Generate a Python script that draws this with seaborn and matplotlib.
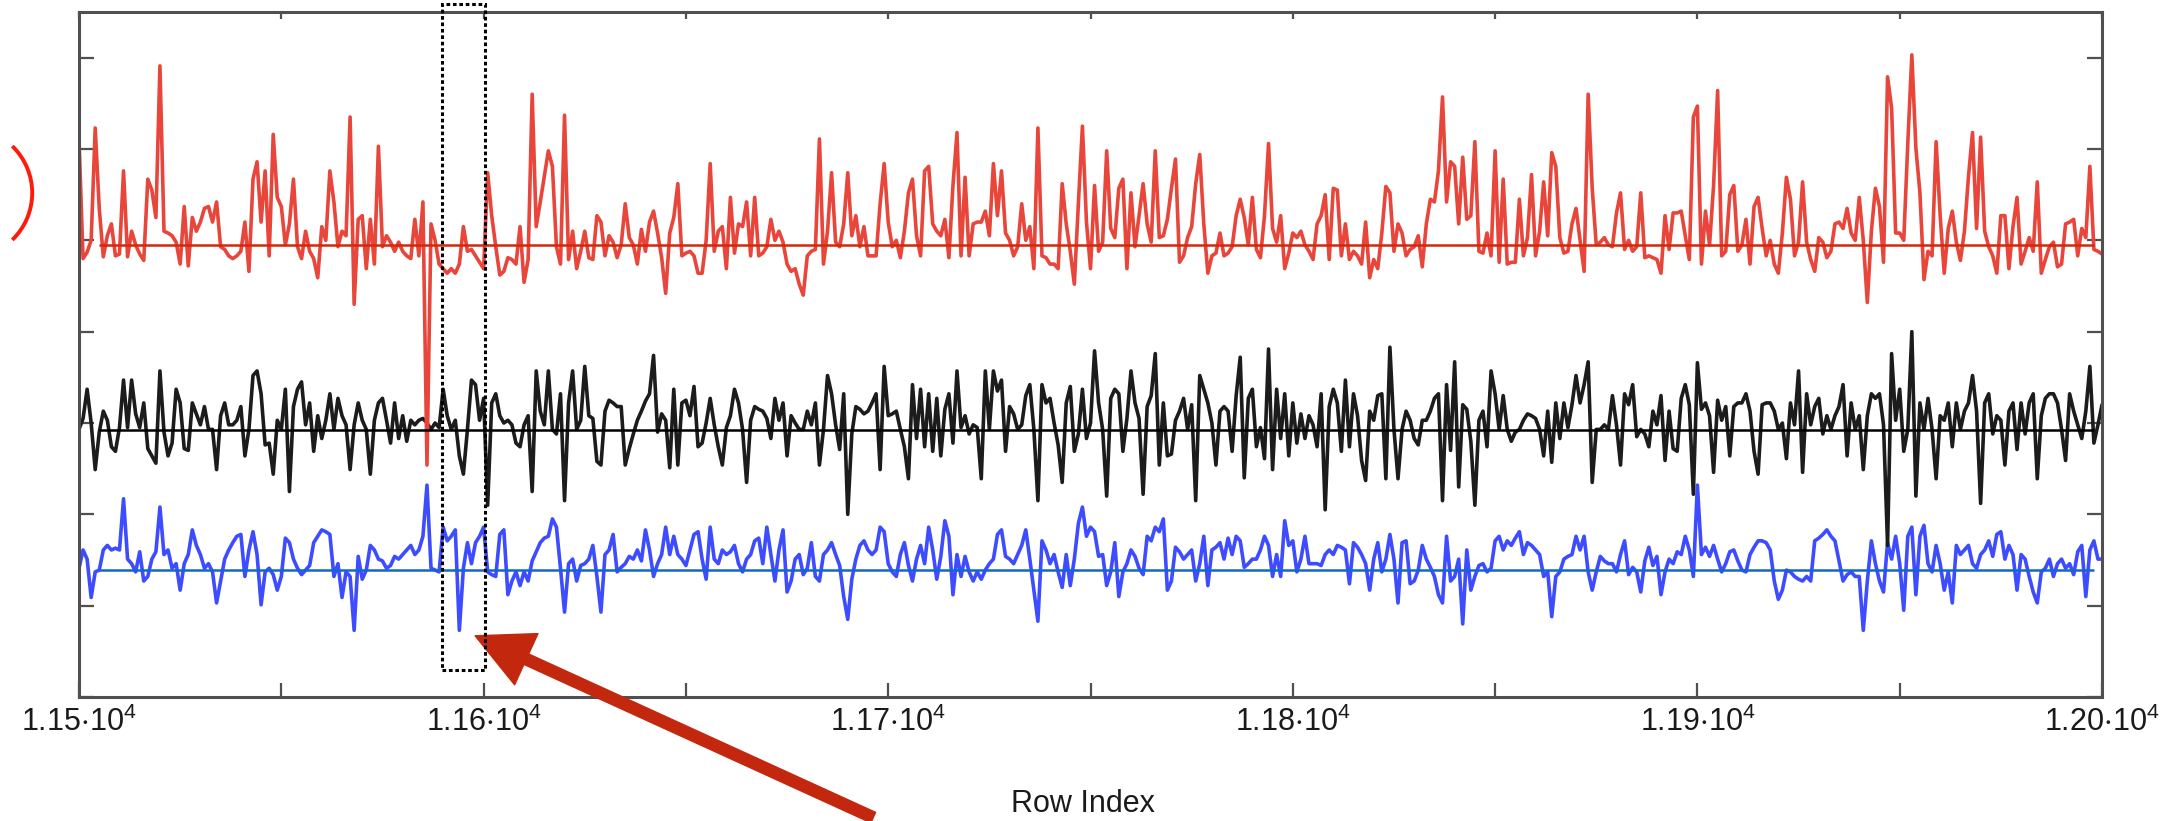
import numpy as np
import pandas as pd
import matplotlib
matplotlib.use("Agg")
import matplotlib.pyplot as plt
from matplotlib.patches import Rectangle, Arc
import seaborn as sns

# ---------------------------------------------------------------- data
rows = np.arange(11500, 12001)

upper = [
    6.10, 4.80, 4.87, 5.00, 6.23, 5.35, 4.82, 5.05, 5.18, 4.83,
    4.85, 5.76, 4.82, 5.10, 4.95, 4.85, 4.78, 5.67, 5.55, 5.25,
    6.91, 5.10, 5.08, 5.05, 4.98, 4.74, 5.37, 4.72, 5.25, 5.10,
    5.20, 5.35, 5.37, 5.20, 5.42, 4.93, 4.90, 4.83, 4.80, 4.83,
    4.88, 5.20, 4.66, 5.67, 5.86, 5.20, 5.76, 4.83, 6.16, 5.47,
    5.37, 4.95, 5.18, 5.67, 4.93, 4.80, 5.10, 4.88, 4.80, 4.59,
    5.15, 5.00, 5.76, 5.42, 4.93, 5.10, 5.05, 6.35, 4.30, 5.23,
    5.27, 4.69, 5.23, 4.74, 6.03, 4.93, 5.05, 4.98, 4.88, 4.98,
    4.88, 4.83, 4.80, 5.23, 4.83, 5.42, 2.54, 5.18, 5.00, 4.74,
    4.69, 4.64, 4.69, 4.64, 4.74, 5.15, 4.88, 4.90, 4.83, 4.76,
    4.69, 5.74, 5.27, 4.93, 4.62, 4.66, 4.81, 4.79, 4.74, 5.15,
    4.54, 4.79, 6.60, 5.15, 5.42, 5.70, 5.98, 5.81, 4.93, 4.74,
    6.37, 4.79, 5.10, 4.69, 4.88,
    5.10, 4.81, 4.79, 5.27, 5.20, 4.83, 5.05, 4.98, 4.81, 4.95,
    5.40, 5.03, 4.95, 4.74, 5.12, 4.88, 5.20, 5.32, 5.08, 4.81,
    4.42, 5.08, 5.25, 5.62, 4.83, 4.86, 4.88, 4.83, 4.64, 4.64,
    5.00, 5.84, 4.88, 5.10, 5.15, 4.69, 5.47, 4.86, 5.18, 5.15,
    5.42, 4.83, 5.47, 4.83, 4.86, 4.93, 5.23, 5.00, 5.10, 4.98,
    4.74, 4.66, 4.69, 4.52, 4.40, 4.83, 4.88, 4.90, 6.11, 4.74,
    5.10, 5.74, 4.98, 4.93, 5.18, 5.74, 5.05, 5.27, 4.93, 5.15,
    4.83, 4.83, 4.83, 5.40, 5.84, 5.20, 4.93, 5.00, 4.81, 5.10,
    5.52, 5.67, 5.05, 4.83, 5.76, 5.81, 5.18, 5.10, 5.05, 5.23,
    4.81, 5.60, 6.18, 4.83, 5.69, 4.83, 5.18, 5.20, 5.20, 5.32,
    5.05, 5.84, 5.27, 5.76, 5.08, 5.00, 4.83, 4.93, 5.40, 5.00,
    5.15, 4.69, 6.23, 4.83, 4.81, 4.74, 4.74, 4.69, 5.62, 5.18,
    4.88, 4.52, 5.40, 6.25, 5.20,
    4.69, 5.60, 4.88, 4.98, 5.98, 5.13, 5.03, 5.57, 5.67, 4.69,
    5.52, 4.93, 5.27, 5.62, 5.18, 4.98, 5.98, 5.03, 5.05, 5.23,
    5.57, 5.89, 4.76, 4.83, 5.03, 5.15, 5.62, 5.94, 5.18, 4.64,
    4.83, 4.86, 5.08, 4.83, 4.86, 4.93, 5.27, 5.45, 5.25, 4.95,
    5.47, 4.90, 4.81, 5.27, 6.06, 5.13, 4.98, 5.27, 4.69, 4.86,
    5.08, 5.03, 5.10, 4.95, 4.88, 4.79, 5.18, 5.27, 5.50, 4.79,
    5.57, 5.55, 4.83, 5.18, 4.79, 4.88, 4.83, 4.74, 5.20, 4.59,
    4.79, 4.69, 5.08, 5.59, 5.52, 4.88, 5.18, 5.08, 4.83, 4.90,
    4.93, 5.05, 4.71, 5.18, 5.45, 5.42, 5.76, 6.57, 5.42, 5.86,
    5.81, 5.18, 5.91, 5.23, 5.27, 6.08, 4.88, 4.86, 5.08, 4.83,
    5.98, 4.76, 5.67, 4.74, 4.76, 4.76, 5.45, 4.83, 5.03, 5.72,
    4.83, 5.10, 5.64, 5.05, 5.96, 5.81, 5.03, 4.86, 4.88, 5.18,
    5.35, 5.00, 4.66, 6.60, 5.57,
    4.95, 4.98, 5.03, 4.95, 4.93, 5.30, 5.52, 4.90, 5.00, 4.88,
    4.93, 5.52, 4.81, 4.83, 4.81, 4.79, 4.64, 5.27, 4.90, 5.30,
    5.30, 5.32, 5.05, 4.79, 6.35, 6.47, 4.74, 5.32, 4.95, 5.60,
    6.64, 4.83, 4.88, 5.50, 5.60, 4.88, 4.95, 5.23, 4.74, 5.37,
    5.47, 5.13, 4.83, 5.00, 4.74, 4.64, 5.08, 5.69, 5.45, 4.83,
    4.98, 5.64, 4.98, 4.79, 4.66, 5.03, 4.98, 4.81, 4.88, 5.18,
    5.20, 5.13, 5.35, 5.08, 5.00, 5.47, 5.00, 4.32, 5.10, 5.57,
    5.37, 4.76, 6.79, 6.45, 5.08, 5.08, 5.00, 6.06, 7.03, 6.01,
    5.52, 4.57, 4.88, 4.83, 6.08, 5.27, 4.64, 5.13, 5.32, 4.98,
    4.78, 5.10, 5.70, 6.18, 5.13, 6.13, 5.10, 4.93, 4.83, 4.64,
    5.27, 5.27, 4.69, 5.15, 5.47, 4.74, 4.88, 5.03, 4.88, 5.64,
    4.64, 4.79, 4.93, 4.98, 4.71, 4.74, 5.18, 5.20, 5.23, 4.83,
    5.13, 5.03, 5.81, 4.90, 4.88, 4.85,
]

middle = [
    2.93, 3.05, 3.37, 3.00, 2.49, 2.90, 3.13, 3.03, 2.74, 2.69,
    2.95, 3.47, 2.95, 3.47, 3.10, 2.95, 3.22, 2.72, 2.64, 2.56,
    3.57, 2.90, 2.64, 2.78, 3.37, 3.22, 2.72, 2.70, 3.22, 3.10,
    2.98, 3.18, 2.93, 2.93, 2.49, 3.08, 3.22, 2.98, 2.98, 3.03,
    3.18, 2.64, 2.93, 3.52, 3.57, 3.32, 2.76, 2.78, 2.44, 3.03,
    2.93, 3.37, 2.25, 3.18, 3.37, 3.45, 2.98, 3.22, 2.69, 3.08,
    2.83, 3.03, 3.32, 2.93, 3.27, 3.08, 2.98, 2.49, 2.98, 3.22,
    3.03, 2.93, 2.44, 3.03, 3.22, 3.27, 3.03, 2.78, 3.22, 2.83,
    3.08, 2.80, 3.03, 2.98, 3.03, 3.05, 3.00, 2.93, 3.00, 2.95,
    3.37, 3.08, 2.93, 3.03, 2.64, 2.44, 2.93, 3.47, 3.42, 3.03,
    3.27, 2.10, 3.22, 3.32, 3.08, 3.00, 3.03, 2.98, 2.78, 2.74,
    2.98, 3.08, 2.25, 3.57, 3.13, 2.98, 3.57, 2.93, 2.88, 3.32,
    2.15, 3.22, 3.57, 2.93, 3.03,
    3.62, 3.08, 3.05, 2.58, 2.54, 3.13, 3.25, 3.22, 3.18, 3.18,
    2.54, 2.72, 2.88, 3.03, 3.13, 3.24, 3.32, 3.74, 2.90, 3.10,
    3.03, 2.51, 3.37, 2.54, 3.22, 3.25, 3.08, 3.40, 2.74, 2.78,
    3.00, 3.27, 2.98, 2.74, 2.54, 2.95, 3.08, 3.37, 3.22, 2.93,
    2.35, 3.03, 3.18, 3.15, 3.13, 3.05, 2.83, 3.27, 3.03, 3.22,
    2.64, 3.08, 3.00, 2.93, 2.93, 3.13, 2.98, 3.22, 2.54, 2.93,
    3.52, 3.32, 2.98, 2.71, 3.32, 2.00, 2.88, 3.18, 3.15, 3.10,
    3.13, 3.22, 3.32, 2.49, 3.62, 3.08, 3.10, 3.13, 2.93, 2.74,
    2.39, 3.42, 2.83, 3.37, 2.74, 3.32, 2.69, 3.27, 2.64, 3.15,
    3.32, 2.78, 3.57, 2.95, 3.08, 2.88, 2.98, 2.95, 2.39, 3.57,
    2.93, 3.57, 3.35, 3.47, 2.69, 3.18, 3.10, 2.93, 2.98, 3.30,
    3.42, 2.93, 2.15, 3.42, 3.22, 3.27, 3.00, 2.76, 2.35, 3.22,
    3.40, 2.69, 2.88, 3.37, 2.83,
    3.00, 3.79, 3.22, 2.93, 2.20, 3.27, 3.37, 3.32, 2.69, 3.05,
    3.57, 3.22, 3.05, 2.22, 3.18, 3.30, 3.76, 2.54, 3.22, 2.64,
    2.66, 3.03, 3.13, 3.27, 2.93, 3.20, 2.15, 3.52, 3.37, 3.22,
    3.00, 2.54, 3.13, 3.18, 3.13, 2.69, 3.30, 3.72, 2.40, 3.27,
    3.37, 2.74, 2.95, 2.61, 3.81, 2.49, 3.37, 2.83, 3.32, 2.64,
    3.22, 2.78, 3.10, 2.83, 3.08, 2.98, 2.74, 3.32, 2.05, 3.18,
    3.37, 3.22, 2.69, 3.47, 2.74, 3.32, 3.08, 2.59, 2.37, 3.13,
    3.03, 3.30, 3.32, 2.39, 3.83, 2.93, 2.39, 2.93, 3.13, 3.03,
    2.83, 2.76, 3.03, 3.03, 3.13, 3.27, 3.32, 2.15, 3.42, 2.70,
    3.67, 2.30, 3.20, 3.15, 2.80, 2.10, 3.03, 3.13, 2.74, 3.57,
    3.32, 2.93, 3.30, 2.93, 2.80, 2.90, 2.93, 3.03, 3.10, 3.08,
    3.05, 2.93, 2.64, 3.13, 2.57, 3.22, 2.83, 3.22, 2.95, 3.20,
    3.52, 3.22, 3.42, 3.67, 2.35,
    2.93, 2.93, 2.98, 2.93, 3.30, 2.98, 2.54, 3.32, 3.20, 3.42,
    2.85, 2.93, 2.88, 2.74, 3.13, 2.98, 3.30, 2.59, 3.13, 2.72,
    2.69, 3.27, 3.42, 3.20, 2.22, 3.66, 3.15, 3.22, 3.08, 2.46,
    3.25, 3.03, 3.18, 2.64, 3.18, 3.22, 3.22, 3.32, 3.13, 2.69,
    2.44, 3.20, 3.22, 3.22, 3.13, 2.93, 3.00, 2.61, 3.22, 2.98,
    3.57, 2.46, 3.32, 2.98, 3.18, 3.27, 2.88, 3.08, 2.93, 3.08,
    3.18, 3.42, 2.64, 3.22, 2.93, 3.08, 2.49, 3.08, 3.32, 3.27,
    3.32, 2.98, 1.66, 3.76, 3.03, 3.37, 2.69, 2.93, 4.00, 2.20,
    3.22, 2.93, 3.27, 2.93, 2.39, 3.08, 3.03, 3.22, 2.74, 3.22,
    2.93, 3.13, 3.22, 3.52, 3.13, 2.12, 3.22, 3.32, 2.88, 3.08,
    3.03, 2.54, 3.13, 3.22, 2.71, 3.22, 2.88, 3.22, 3.32, 2.39,
    3.08, 3.27, 3.32, 3.32, 3.22, 2.93, 2.59, 3.32, 3.13, 2.98,
    2.83, 3.13, 3.62, 2.78, 2.98, 3.20,
]

lower = [
    1.41, 1.61, 1.51, 1.09, 1.37, 1.39, 1.61, 1.66, 1.61, 1.63,
    1.61, 2.17, 1.51, 1.46, 1.37, 1.59, 1.27, 1.32, 1.51, 1.59,
    2.08, 1.56, 1.61, 1.41, 1.46, 1.17, 1.46, 1.56, 1.83, 1.66,
    1.56, 1.41, 1.46, 1.37, 1.03, 1.27, 1.51, 1.61, 1.69, 1.76,
    1.78, 1.32, 1.61, 1.81, 1.56, 1.01, 1.37, 1.41, 1.34, 1.17,
    1.32, 1.74, 1.69, 1.51, 1.41, 1.34, 1.39, 1.44, 1.69, 1.76,
    1.83, 1.81, 1.78, 1.32, 1.46, 1.09, 1.37, 1.32, 0.73, 1.54,
    1.29, 1.39, 1.66, 1.61, 1.51, 1.49, 1.41, 1.44, 1.54, 1.51,
    1.56, 1.61, 1.66, 1.56, 1.61, 1.76, 2.32, 1.41, 1.39, 1.37,
    1.86, 1.71, 1.76, 1.83, 0.73, 1.41, 1.69, 1.46, 1.69, 1.76,
    1.86, 1.37, 1.34, 1.32, 1.78, 1.83, 1.12, 1.27, 1.37, 1.22,
    1.37, 1.27, 1.49, 1.59, 1.69, 1.74, 1.76, 1.95, 1.86, 1.41,
    0.93, 1.46, 1.51, 1.27, 1.44,
    1.46, 1.51, 1.66, 1.32, 0.93, 1.56, 1.61, 1.78, 1.37, 1.42,
    1.46, 1.54, 1.51, 1.61, 1.49, 1.83, 1.61, 1.32, 1.46, 1.56,
    1.86, 1.56, 1.76, 1.56, 1.51, 1.44, 1.61, 1.78, 1.81, 1.51,
    1.29, 1.86, 1.51, 1.46, 1.61, 1.56, 1.59, 1.66, 1.46, 1.37,
    1.51, 1.56, 1.71, 1.74, 1.46, 1.86, 1.56, 1.27, 1.61, 1.83,
    1.15, 1.27, 1.51, 1.56, 1.34, 1.41, 1.69, 1.32, 1.27, 1.56,
    1.61, 1.69, 1.56, 1.44, 1.10, 0.85, 1.29, 1.51, 1.66, 1.71,
    1.61, 1.56, 1.61, 1.86, 1.81, 1.46, 1.37, 1.32, 1.56, 1.69,
    1.44, 1.27, 1.51, 1.66, 1.46, 1.86, 1.61, 1.29, 1.54, 1.93,
    1.76, 1.12, 1.56, 1.32, 1.54, 1.37, 1.27, 1.37, 1.29, 1.39,
    1.46, 1.51, 1.78, 1.83, 1.54, 1.51, 1.46, 1.56, 1.66, 1.83,
    1.51, 1.17, 0.83, 1.71, 1.61, 1.46, 1.56, 1.37, 1.20, 1.56,
    1.22, 1.51, 1.90, 2.08, 1.76,
    1.86, 1.81, 1.54, 1.56, 1.22, 1.37, 1.69, 1.10, 1.37, 1.46,
    1.61, 1.54, 1.41, 1.34, 1.76, 1.71, 1.86, 1.81, 1.95, 1.17,
    1.27, 1.64, 1.59, 1.51, 1.56, 1.61, 1.27, 1.46, 1.76, 1.22,
    1.61, 1.64, 1.69, 1.51, 1.74, 1.56, 1.76, 1.71, 1.42, 1.46,
    1.51, 1.51, 1.61, 1.76, 1.66, 1.32, 1.56, 1.32, 1.93, 1.66,
    1.71, 1.37, 1.51, 1.76, 1.46, 1.46, 1.46, 1.44, 1.56, 1.61,
    1.56, 1.66, 1.64, 1.61, 1.24, 1.69, 1.64, 1.56, 1.46, 1.17,
    1.51, 1.69, 1.37, 1.51, 1.78, 1.51, 1.03, 1.69, 1.71, 1.24,
    1.27, 1.39, 1.66, 1.51, 1.42, 1.32, 1.12, 1.03, 1.76, 1.27,
    1.32, 1.51, 0.80, 1.61, 1.17, 1.32, 1.44, 1.46, 1.37, 1.41,
    1.71, 1.76, 1.61, 1.71, 1.66, 1.74, 1.81, 1.56, 1.69, 1.66,
    1.61, 1.56, 1.32, 1.37, 0.88, 1.32, 1.37, 1.51, 1.54, 1.56,
    1.76, 1.61, 1.76, 1.37, 1.17,
    1.37, 1.54, 1.49, 1.46, 1.46, 1.37, 1.56, 1.71, 1.34, 1.42,
    1.37, 1.15, 1.49, 1.64, 1.44, 1.54, 1.12, 1.37, 1.51, 1.46,
    1.59, 1.56, 1.76, 1.61, 1.32, 2.32, 1.56, 1.64, 1.54, 1.66,
    1.51, 1.37, 1.46, 1.59, 1.61, 1.49, 1.39, 1.37, 1.56, 1.64,
    1.71, 1.71, 1.69, 1.61, 1.27, 1.07, 1.17, 1.39, 1.37, 1.32,
    1.29, 1.27, 1.32, 1.27, 1.71, 1.74, 1.78, 1.83, 1.76, 1.71,
    1.49, 1.27, 1.34, 1.37, 1.32, 1.32, 0.73, 1.27, 1.71, 1.46,
    1.27, 1.15, 1.69, 1.51, 1.76, 1.46, 0.95, 1.76, 1.86, 1.12,
    1.76, 1.88, 1.46, 1.37, 1.66, 1.46, 1.17, 1.37, 1.03, 1.66,
    1.56, 1.61, 1.66, 1.46, 1.41, 1.56, 1.61, 1.71, 1.54, 1.78,
    1.81, 1.51, 1.66, 1.56, 1.17, 1.56, 1.51, 1.32, 1.15, 1.03,
    1.37, 1.41, 1.51, 1.32, 1.46, 1.51, 1.41, 1.46, 1.34, 1.59,
    1.66, 1.10, 1.61, 1.71, 1.51, 1.51,
]

# reference levels of the three traces
level_upper = 4.95
level_middle = 2.92
level_lower = 1.39
level_start, level_end = 11505, 11998

# highlighted window of rows
window_start, window_end = 11589.7, 11600.4
window_bottom, window_top = 0.30, 7.59

x_major = [11500, 11600, 11700, 11800, 11900, 12000]
x_minor = [11550, 11650, 11750, 11850, 11950]
x_tick_labels = [
    r"$\mathregular{1.15{\cdot}10^{4}}$",
    r"$\mathregular{1.16{\cdot}10^{4}}$",
    r"$\mathregular{1.17{\cdot}10^{4}}$",
    r"$\mathregular{1.18{\cdot}10^{4}}$",
    r"$\mathregular{1.19{\cdot}10^{4}}$",
    r"$\mathregular{1.20{\cdot}10^{4}}$",
]
y_ticks = [0, 1, 2, 3, 4, 5, 6, 7]
x_label = "Row Index"

# ---------------------------------------------------------------- style
sns.set_style("white")
plt.rcParams["font.family"] = ["Liberation Sans", "DejaVu Sans"]
plt.rcParams["mathtext.fontset"] = "custom"
plt.rcParams["mathtext.rm"] = "Liberation Sans"
plt.rcParams["mathtext.it"] = "Liberation Sans:italic"
plt.rcParams["mathtext.bf"] = "Liberation Sans:bold"

palette = {"lower": "#3d4cff", "middle": "#1c1c1c", "upper": "#e8453b"}
level_colors = ["#d02a0c", "#000000", "#1366cc"]
spine_color = "#505050"

df = pd.DataFrame({
    "row": np.concatenate([rows, rows, rows]),
    "value": np.concatenate([lower, middle, upper]),
    "trace": ["lower"] * len(rows) + ["middle"] * len(rows) + ["upper"] * len(rows),
})

fig = plt.figure(figsize=(21.65, 8.21), dpi=100)

# decorative overlay in pixel space (left bracket mark)
overlay = fig.add_axes([0, 0, 1, 1])
overlay.set_xlim(0, 2165)
overlay.set_ylim(821, 0)
overlay.axis("off")
overlay.add_patch(Arc((-33, 193), 130.4, 130.4, theta1=-46, theta2=46,
                      color="#ff1a0a", lw=2.8))

ax = fig.add_axes([0.0365, 0.151, 0.9344, 0.8344])

sns.lineplot(data=df, x="row", y="value", hue="trace",
             hue_order=["lower", "middle", "upper"], palette=palette,
             estimator=None, sort=False, linewidth=2.6, legend=False, ax=ax)

ax.hlines([level_upper, level_middle, level_lower], level_start, level_end,
          colors=level_colors, linewidth=1.8, zorder=4)

ax.set_xlim(11500, 12000)
ax.set_ylim(0, 7.5)

ax.set_xticks(x_major)
ax.set_xticklabels(x_tick_labels)
ax.set_xticks(x_minor, minor=True)
ax.tick_params(axis="x", which="both", direction="in", length=10, width=1.6,
               color=spine_color, bottom=True, top=False, labelsize=22,
               labelcolor="#1a1a1a", pad=7)
ax.set_yticks(y_ticks)
ax.set_yticklabels([])
ax.tick_params(axis="y", direction="in", length=11, width=1.6,
               color=spine_color, left=True, right=True)
ax.set_xlabel("")
ax.set_ylabel("")

top = ax.secondary_xaxis("top")
top.set_xticks(x_major + x_minor)
top.set_xticklabels([])
top.tick_params(direction="in", length=5, width=1.6, color=spine_color)
top.spines["top"].set_visible(False)

for s in ax.spines.values():
    s.set_linewidth(2.2)
    s.set_color(spine_color)

# dotted window around the highlighted rows
ax.add_patch(Rectangle((window_start, window_bottom), window_end - window_start,
                       window_top - window_bottom, fill=False, ec="black",
                       lw=2.2, ls=(0, (1.2, 0.9)), clip_on=False, zorder=6))

# pointer arrow into the window
ax.annotate("", xy=(11597.9, 0.67), xytext=(11696.3, -1.32),
            xycoords="data", textcoords="data", annotation_clip=False,
            arrowprops=dict(arrowstyle="simple,head_length=2.7,head_width=2.7,tail_width=0.55",
                            mutation_scale=15, color="#c3280f",
                            shrinkA=0, shrinkB=0))

fig.text(0.5, 0.021, x_label, ha="center", va="center", fontsize=22,
         color="#1a1a1a")

fig.savefig("out.png", dpi=100)
